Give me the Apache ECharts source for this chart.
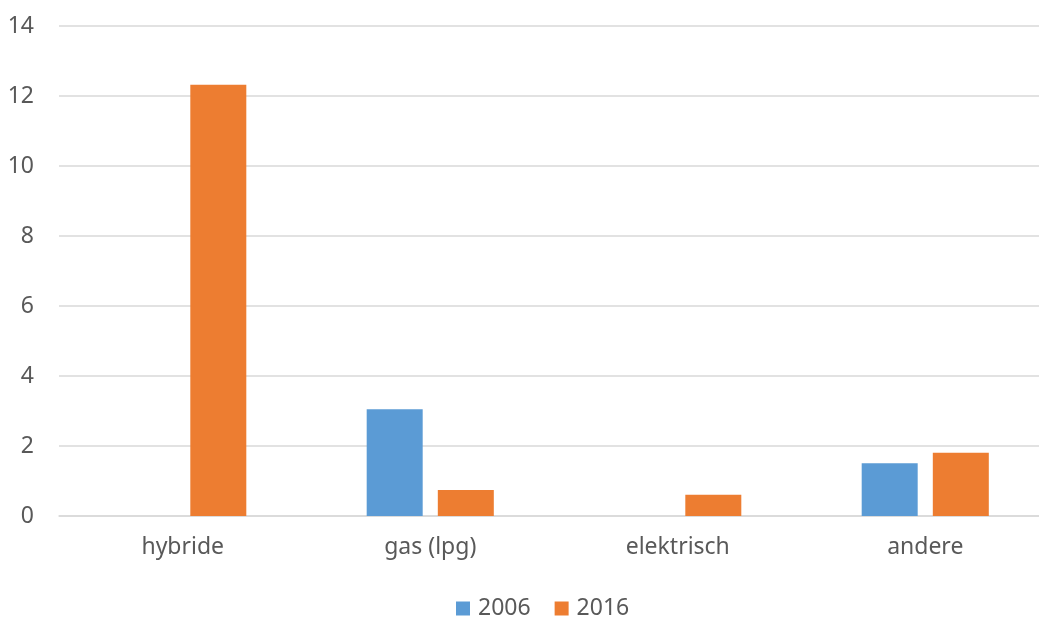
<!DOCTYPE html>
<html>
<head>
<meta charset="utf-8">
<script src="https://cdn.jsdelivr.net/npm/echarts@6/dist/echarts.min.js"></script>
<style>
    * { margin: 0; padding: 0; }
    body { background: #fff; }
</style>
</head>
<body>
<div id="chart" style="width: 1039px; height: 617px;"></div>
<script>
    // data
    var categories = ['hybride', 'gas (lpg)', 'elektrisch', 'andere'];
    var seriesNames = ['2006', '2016'];
    var values2006 = [0, 3.05, 0, 1.51];
    var values2016 = [12.32, 0.74, 0.61, 1.81];

    var textColor = '#595959';
    var gridColor = '#D9D9D9';
    var font = '"Noto Sans", "Open Sans", sans-serif';

    var option = {
        backgroundColor: '#fff',
        animation: false,
        // plot runs off the right edge like the original
        grid: { left: 59, width: 990, top: 26, bottom: 101, outerBoundsMode: 'none' },
        legend: {
            data: seriesNames,
            left: 451,
            top: 592,
            itemWidth: 14,
            itemHeight: 14,
            itemGap: 24,
            icon: 'rect',
            textStyle: { color: textColor, fontSize: 23, fontFamily: font, padding: [0, 0, 0, 3] }
        },
        xAxis: {
            type: 'category',
            data: categories,
            axisLine: { lineStyle: { color: gridColor, width: 1.5 } },
            axisTick: { show: false },
            axisLabel: { color: textColor, fontSize: 23, fontFamily: font, margin: 20 }
        },
        yAxis: {
            type: 'value',
            min: 0,
            max: 14,
            interval: 2,
            axisLine: { show: false },
            axisTick: { show: false },
            axisLabel: { color: textColor, fontSize: 23, fontFamily: font, margin: 25 },
            splitLine: { lineStyle: { color: gridColor, width: 1.5 } }
        },
        series: [
            {
                name: seriesNames[0],
                type: 'bar',
                data: values2006,
                barWidth: 56,
                barGap: '27%',
                itemStyle: { color: '#5B9BD5' }
            },
            {
                name: seriesNames[1],
                type: 'bar',
                data: values2016,
                barWidth: 56,
                barGap: '27%',
                itemStyle: { color: '#ED7D31' }
            }
        ]
    };

    var myChart = echarts.init(document.getElementById('chart'));
    myChart.setOption(option);
</script>
</body>
</html>
